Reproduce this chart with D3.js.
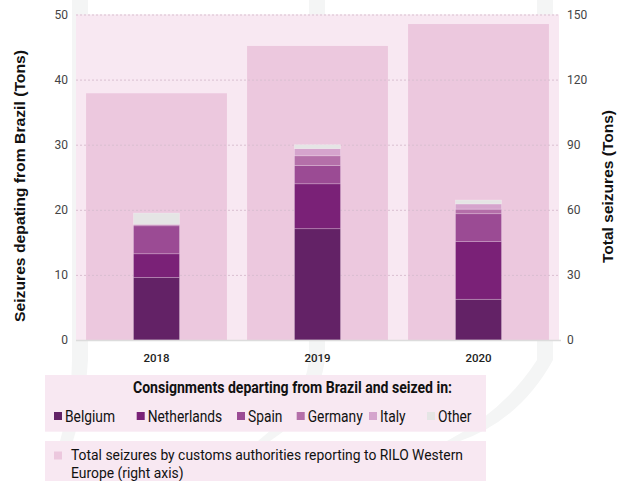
<!DOCTYPE html>
<html><head><meta charset="utf-8">
<script src="https://cdn.jsdelivr.net/npm/d3@7"></script>
<style>
html,body{margin:0;padding:0;background:#fff;}
svg{display:block;}
</style></head>
<body>
<svg id="chart" width="629" height="481"></svg>
<script>
const years = ["2018", "2019", "2020"];
const countries = ["Belgium", "Netherlands", "Spain", "Germany", "Italy", "Other"];
const belgium = [9.6, 17.1, 6.25];
const netherlands = [3.65, 6.9, 8.9];
const spain = [4.3, 2.8, 4.25];
const germany = [0.2, 1.5, 0.7];
const italy = [0.0, 1.1, 0.8];
const other = [1.75, 0.6, 0.6];
const totalSeizures = [113.7, 135.5, 145.6];
const leftTicks = [0, 10, 20, 30, 40, 50];
const rightTicks = [0, 30, 60, 90, 120, 150];
const colors = ["#632266", "#7a2177", "#9b4b94", "#b46fa9", "#d5a4cd", "#e5e5e5"];

const svg = d3.select("#chart");
const plot = {x0: 76, x1: 559, y0: 14.5, y1: 340};

// faint background watermark strips
const strips = [
  "M72,0 L88,0 L88,360 Q86,400 73,441 L60,441 Q72,400 72,360 Z",
  "M309,0 L325,0 L325,360 Q318,410 270,441 L258,441 Q304,405 309,360 Z",
  "M537,0 L553,0 L553,360 Q520,420 460,441 L447,441 Q505,410 537,360 Z"
];
svg.selectAll("path.wm").data(strips).join("path").attr("class","wm")
  .attr("d", d => d).attr("fill", "#f4f5f5");

const x = d3.scaleBand().domain(years).range([plot.x0, plot.x1]).paddingInner(0.125).paddingOuter(0.0625);
const yL = d3.scaleLinear().domain([0, 50]).range([plot.y1, plot.y0]);
const yR = d3.scaleLinear().domain([0, 150]).range([plot.y1, plot.y0]);

// plot background
svg.append("rect").attr("x", plot.x0).attr("y", plot.y0).attr("width", plot.x1 - plot.x0)
  .attr("height", plot.y1 - plot.y0).attr("fill", "#f8e8f2");

// total bars (right axis)
svg.selectAll("rect.total").data(years).join("rect").attr("class","total")
  .attr("x", d => x(d)).attr("width", x.bandwidth())
  .attr("y", (d,i) => yR(totalSeizures[i])).attr("height", (d,i) => yR(0) - yR(totalSeizures[i]))
  .attr("fill", "#ecc8de");

// gridlines
svg.selectAll("line.grid").data(leftTicks.filter(t => t > 0)).join("line").attr("class","grid")
  .attr("x1", plot.x0).attr("x2", plot.x1).attr("y1", d => yL(d) + 0.5).attr("y2", d => yL(d) + 0.5)
  .attr("stroke", "#d9bfd0").attr("stroke-width", 1).attr("stroke-dasharray", "2,2");

// stacked bars
const rows = years.map((y, i) => ({year: y, Belgium: belgium[i], Netherlands: netherlands[i], Spain: spain[i], Germany: germany[i], Italy: italy[i], Other: other[i]}));
const stack = d3.stack().keys(countries)(rows);
const sw = x.step() * 0.286;
const g = svg.append("g");
stack.forEach((layer, li) => {
  g.selectAll("rect.s" + li).data(layer).join("rect")
    .attr("x", d => x(d.data.year) + x.bandwidth() / 2 - sw / 2)
    .attr("width", sw)
    .attr("y", d => yL(d[1]))
    .attr("height", d => Math.max(0, yL(d[0]) - yL(d[1])))
    .attr("fill", colors[li])
    .attr("stroke", "rgba(255,255,255,0.28)").attr("stroke-width", 0.8);
});

// bottom axis line
svg.append("line").attr("x1", plot.x0).attr("x2", plot.x1 + 2).attr("y1", plot.y1 + 0.5).attr("y2", plot.y1 + 0.5)
  .attr("stroke", "#dcdcdc").attr("stroke-width", 1.5);

// left axis
const axL = svg.append("g").attr("transform", `translate(${plot.x0},0)`)
  .call(d3.axisLeft(yL).tickValues(leftTicks).tickSize(0).tickPadding(8));
axL.select(".domain").remove();
axL.selectAll("text").attr("font-family", "Roboto, 'Liberation Sans', sans-serif").attr("font-size", 12).attr("fill", "#444");

// right axis
const axR = svg.append("g").attr("transform", `translate(${plot.x1},0)`)
  .call(d3.axisRight(yR).tickValues(rightTicks).tickSize(0).tickPadding(8));
axR.select(".domain").remove();
axR.selectAll("text").attr("font-family", "Roboto, 'Liberation Sans', sans-serif").attr("font-size", 12).attr("fill", "#444");

// bottom axis labels
const axB = svg.append("g").attr("transform", `translate(0,${plot.y1})`)
  .call(d3.axisBottom(x).tickSize(0).tickPadding(14));
axB.select(".domain").remove();
axB.selectAll("text").attr("font-family", "Roboto, sans-serif")
  .attr("font-size", 11.5).attr("font-weight", 500).attr("fill", "#222");

// axis titles
svg.append("text").attr("transform", "translate(25,186) rotate(-90)").attr("text-anchor", "middle")
  .attr("font-family", "'Liberation Sans', Arial, sans-serif").attr("font-weight", "bold").attr("font-size", 14)
  .attr("fill", "#111").attr("textLength", 272).attr("lengthAdjust", "spacingAndGlyphs")
  .text("Seizures depating from Brazil (Tons)");
svg.append("text").attr("transform", "translate(613,186.5) rotate(-90)").attr("text-anchor", "middle")
  .attr("font-family", "'Liberation Sans', Arial, sans-serif").attr("font-weight", "bold").attr("font-size", 14)
  .attr("fill", "#111").attr("textLength", 153).attr("lengthAdjust", "spacingAndGlyphs")
  .text("Total seizures (Tons)");

// legend box 1
const legFont = "'Liberation Sans Narrow', Roboto, 'Liberation Sans', sans-serif";
svg.append("rect").attr("x", 45).attr("y", 375).attr("width", 441).attr("height", 56.7).attr("fill", "#f8e8f2");
svg.append("text").attr("x", 133).attr("y", 393).attr("font-family", legFont).attr("font-weight", "bold")
  .attr("font-size", 16).attr("fill", "#111").attr("textLength", 319).attr("lengthAdjust", "spacingAndGlyphs")
  .text("Consignments departing from Brazil and seized in:");
const squareX = [54, 136.7, 237, 296.7, 369, 427];
const labels = countries.map((c, i) => {
  svg.append("rect").attr("x", squareX[i]).attr("y", 412).attr("width", 8).attr("height", 8).attr("fill", colors[i]);
  return svg.append("text").attr("x", squareX[i] + 11).attr("y", 421.5).attr("font-family", legFont).attr("font-size", 16)
    .attr("fill", "#111").text(c);
});
// condense legend labels proportionally so "Belgium" spans ~50px
const kx = 50 / labels[0].node().getComputedTextLength();
labels.forEach(t => {
  const w = t.node().getComputedTextLength();
  t.attr("textLength", w * kx).attr("lengthAdjust", "spacingAndGlyphs");
});

// legend box 2
svg.append("rect").attr("x", 45).attr("y", 441).attr("width", 441).attr("height", 45).attr("fill", "#f8e8f2");
svg.append("rect").attr("x", 54).attr("y", 451.5).attr("width", 8).attr("height", 8).attr("fill", "#ecc8de");
const l1 = svg.append("text").attr("x", 71).attr("y", 459.5).attr("font-family", legFont).attr("font-size", 15)
  .attr("fill", "#111").attr("textLength", 392).attr("lengthAdjust", "spacingAndGlyphs")
  .text("Total seizures by customs authorities reporting to RILO Western");
const l2 = svg.append("text").attr("x", 71).attr("y", 477.5).attr("font-family", legFont).attr("font-size", 15)
  .attr("fill", "#111").text("Europe (right axis)");
const k2 = 392 / (l1.node().getNumberOfChars() ? (function(){ const t = svg.append("text").attr("font-family", legFont).attr("font-size", 15).text("Total seizures by customs authorities reporting to RILO Western"); const w = t.node().getComputedTextLength(); t.remove(); return w; })() : 1);
l2.attr("textLength", l2.node().getComputedTextLength() * k2).attr("lengthAdjust", "spacingAndGlyphs");
</script>
</body></html>
